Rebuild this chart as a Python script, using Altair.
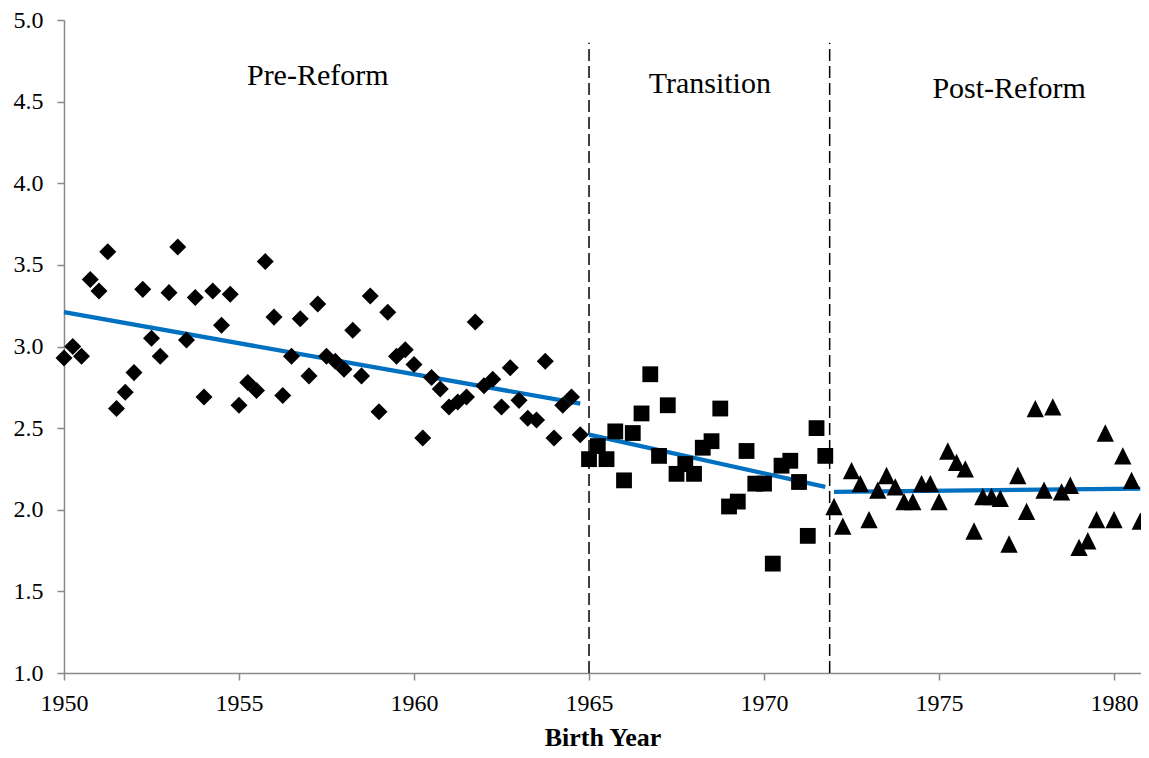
import altair as alt
import pandas as pd

# ---- data ----
pre_values = [2.93, 3.00, 2.94, 3.41, 3.34, 3.58, 2.62, 2.72, 2.84, 3.35,
              3.05, 2.94, 3.33, 3.61, 3.04, 3.30, 2.69, 3.34, 3.13, 3.32,
              2.64, 2.78, 2.73, 3.52, 3.18, 2.70, 2.94, 3.17, 2.82, 3.26,
              2.94, 2.91, 2.86, 3.10, 2.82, 3.31, 2.60, 3.21, 2.94, 2.98,
              2.89, 2.44, 2.81, 2.74, 2.63, 2.66, 2.69, 3.15, 2.76, 2.80,
              2.63, 2.87, 2.67, 2.56, 2.55, 2.91, 2.44, 2.64, 2.69, 2.46]
trans_values = [2.31, 2.39, 2.31, 2.48, 2.18, 2.47, 2.59, 2.83, 2.33, 2.64,
                2.22, 2.28, 2.22, 2.38, 2.42, 2.62, 2.02, 2.05, 2.36, 2.16,
                2.16, 1.67, 2.27, 2.30, 2.17, 1.84, 2.50, 2.33]
post_values = [2.02, 1.90, 2.24, 2.16, 1.94, 2.12, 2.21, 2.14, 2.05, 2.05,
               2.16, 2.16, 2.05, 2.36, 2.29, 2.25, 1.87, 2.08, 2.08, 2.07,
               1.79, 2.21, 1.99, 2.62, 2.12, 2.63, 2.11, 2.15, 1.77, 1.81,
               1.94, 2.47, 1.94, 2.33, 2.18, 1.93]

pre_years = [1950 + q / 4 for q in range(len(pre_values))]
trans_years = [1965 + q / 4 for q in range(len(trans_values))]
post_years = [1972 + q / 4 for q in range(len(post_values))]

fit_years = [1950, 1964.75, 1965, 1971.75, 1972, 1980.75]
fit_values = [3.21, 2.65, 2.46, 2.14, 2.11, 2.13]
fit_period = ["Pre", "Pre", "Trans", "Trans", "Post", "Post"]

cutoff_years = [1965, 1971.875]
cutoff_low = [1.0, 1.0]
cutoff_high = [4.86, 4.86]

period_labels = ["Pre-Reform", "Transition", "Post-Reform"]
label_x = [1957.25, 1968.45, 1977.0]
label_y = [4.66, 4.61, 4.58]

x_ticks = [1950, 1955, 1960, 1965, 1970, 1975, 1980]
y_ticks = [1.0, 1.5, 2.0, 2.5, 3.0, 3.5, 4.0, 4.5, 5.0]

# ---- tables ----
pre_df = pd.DataFrame({"year": pre_years, "value": pre_values})
trans_df = pd.DataFrame({"year": trans_years, "value": trans_values})
post_df = pd.DataFrame({"year": post_years, "value": post_values})
fit_df = pd.DataFrame({"year": fit_years, "value": fit_values, "period": fit_period})
cut_df = pd.DataFrame({"year": cutoff_years, "value": cutoff_low, "value2": cutoff_high})
lab_df = pd.DataFrame({"year": label_x, "value": label_y, "label": period_labels})

FONT = "Liberation Serif"

# the axis runs on to the right edge of the picture
xenc = alt.X("year:Q",
             scale=alt.Scale(domain=[1950, 1980.77], nice=False, zero=False),
             axis=alt.Axis(values=x_ticks, format="d", title="Birth Year",
                           grid=False, labelPadding=11, titlePadding=9,
                           labelFlush=False, labelFont=FONT, labelFontSize=24,
                           titleFont=FONT, titleFontSize=26,
                           titleFontWeight="bold"))
yenc = alt.Y("value:Q",
             scale=alt.Scale(domain=[1, 5], nice=False, zero=False),
             axis=alt.Axis(values=y_ticks, format=".1f", title=None,
                           grid=False, labelPadding=14, labelFlush=False,
                           labelFont=FONT, labelFontSize=24))

rules = alt.Chart(cut_df).mark_rule(color="black", strokeWidth=1.5,
                                    strokeDash=[12, 5]).encode(
    x=xenc, y=yenc, y2="value2:Q")

fit = alt.Chart(fit_df).mark_line(color="#0070C0", strokeWidth=4.3).encode(
    x=xenc, y=yenc, detail="period:N")

pre = alt.Chart(pre_df).mark_point(shape="diamond", filled=True, color="black",
                                   opacity=1, size=290).encode(x=xenc, y=yenc)
trans = alt.Chart(trans_df).mark_point(shape="square", filled=True, color="black",
                                       opacity=1, size=250).encode(x=xenc, y=yenc)
post = alt.Chart(post_df).mark_point(shape="M0,-1L1,1L-1,1Z", filled=True,
                                     color="black", opacity=1,
                                     size=300).encode(x=xenc, y=yenc)

labels = alt.Chart(lab_df).mark_text(font=FONT, fontSize=30, color="black",
                                     align="center", baseline="middle").encode(
    x=xenc, y=yenc, text="label:N")

chart = alt.layer(rules, fit, pre, trans, post, labels).properties(
    width=1077, height=653,
    autosize=alt.AutoSizeParams(type="none"),
    padding={"left": 56, "top": 12, "right": 0, "bottom": 77},
).configure_view(stroke=None).configure_axis(
    domainColor="#898989", domainWidth=1.5, tickColor="#898989", tickWidth=1.5,
    tickSize=7, labelColor="black", titleColor="black"
)

chart.save("out.html", embed_options={"renderer": "svg", "actions": False})
